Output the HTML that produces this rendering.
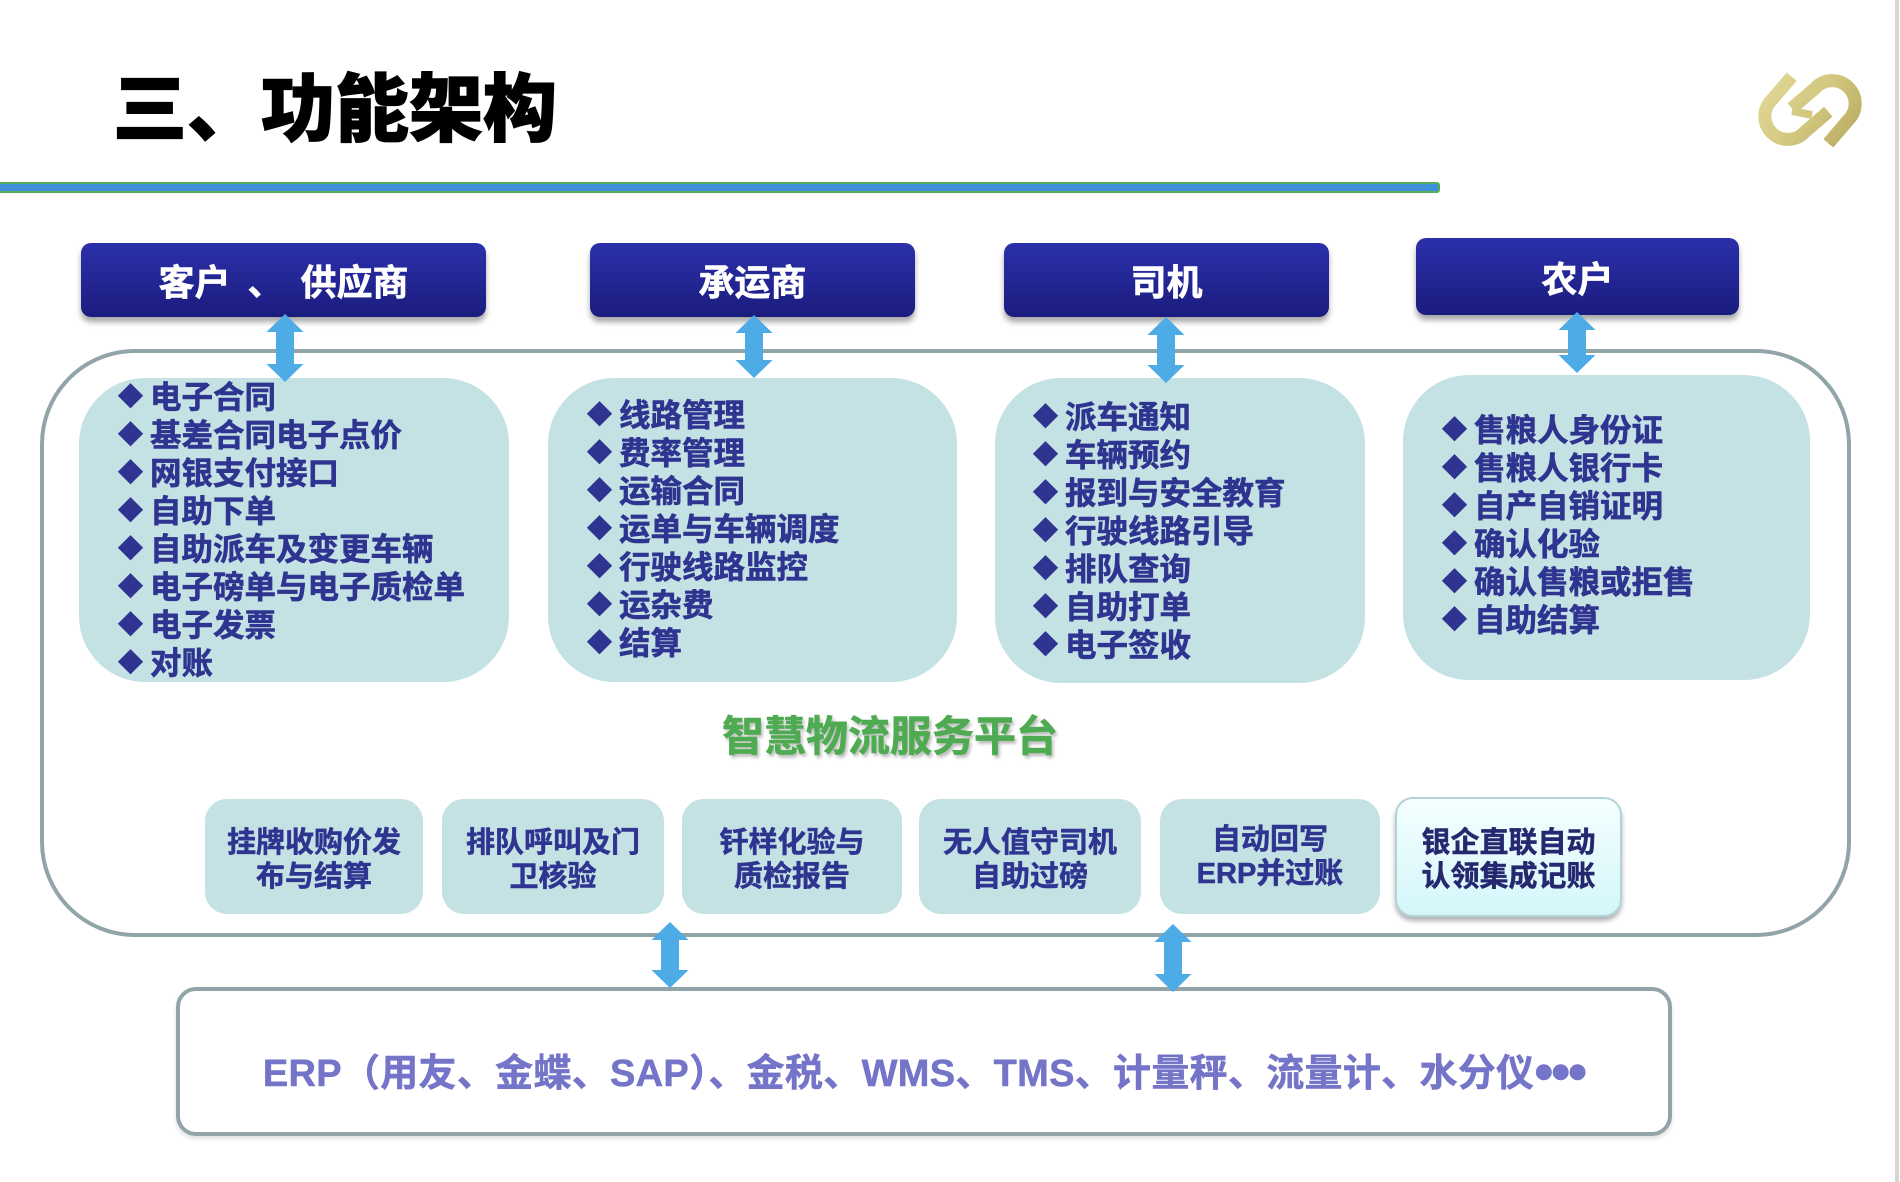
<!DOCTYPE html>
<html><head><meta charset="utf-8">
<style>
html,body{margin:0;padding:0;}
body{width:1900px;height:1182px;position:relative;background:#fff;overflow:hidden;font-family:"Liberation Sans","Noto Sans CJK SC",sans-serif;}
.abs{position:absolute;}
.cjk{font-family:"Noto Sans CJK SC","WenQuanYi Zen Hei",sans-serif;}
.title{left:113px;top:66px;font-size:74px;line-height:76px;font-weight:900;color:#000;white-space:nowrap;-webkit-text-stroke:1.2px #000;}
.rule{left:0;top:182px;width:1440px;height:11px;box-sizing:border-box;background:#3f8fdb;border:2px solid #55ad5b;border-left:none;border-radius:0 3px 3px 0;}
.outer{left:40px;top:349px;width:1811px;height:588px;box-sizing:border-box;border:4px solid #91a5a8;border-radius:95px;}
.hdr{box-sizing:border-box;height:74px;border-radius:10px;background:linear-gradient(#2b30aa,#1b1c7e);box-shadow:0 5px 6px rgba(0,0,0,0.35);color:#fff;font-weight:700;font-size:36px;display:flex;align-items:center;justify-content:center;white-space:nowrap;-webkit-text-stroke:0.6px #fff;}
.pan{background:#c4e1e4;border-radius:66px;}
.list{font-size:31.5px;line-height:38px;font-weight:700;color:#2f3490;white-space:nowrap;-webkit-text-stroke:0.6px #2f3490;}
.list b{display:inline-block;width:32px;font-size:25px;text-align:left;vertical-align:top;font-weight:700;}
.green{left:722px;top:713px;font-size:42px;line-height:42px;font-weight:700;color:#4fab52;text-shadow:2px 3px 3px rgba(0,0,0,0.28);white-space:nowrap;-webkit-text-stroke:0.6px #4fab52;}
.bx{box-sizing:border-box;top:799px;height:115px;background:#c4e1e4;border-radius:22px;display:flex;align-items:center;justify-content:center;text-align:center;font-size:29px;line-height:34px;font-weight:700;color:#2f3490;-webkit-text-stroke:0.5px #2f3490;}
.bx6{box-sizing:border-box;left:1395px;top:797px;width:227px;height:120px;border-radius:18px;border:2px solid #b3d2d6;background:linear-gradient(#f4ffff,#d4f6fa);box-shadow:0 4px 5px rgba(0,0,0,0.3);display:flex;align-items:center;justify-content:center;text-align:center;font-size:29px;line-height:34px;font-weight:700;color:#25286f;-webkit-text-stroke:0.5px #25286f;}
.erp{left:176px;top:987px;width:1496px;height:149px;box-sizing:border-box;border:4px solid #91a5a8;border-radius:20px;box-shadow:0 3px 4px rgba(0,0,0,0.12);}
.erptxt{left:176px;top:1055px;width:1496px;text-align:center;font-size:38px;line-height:38px;letter-spacing:0.3px;font-weight:700;color:#7474c8;white-space:nowrap;-webkit-text-stroke:0.5px #7474c8;}
.dots{font-family:"Liberation Sans",sans-serif;font-size:54px;line-height:20px;letter-spacing:-2px;vertical-align:-4px;}
</style></head><body>

<div class="abs title cjk">三、功能架构</div>
<div class="abs rule"></div>
<div class="abs" style="left:1895px;top:0;width:4px;height:1182px;background:#d6d6d6;"></div>

<!-- outer panel -->
<div class="abs outer"></div>

<!-- inner panels -->
<div class="abs pan" style="left:79px;top:378px;width:430px;height:304px;"></div>
<div class="abs pan" style="left:548px;top:378px;width:409px;height:304px;"></div>
<div class="abs pan" style="left:995px;top:378px;width:370px;height:305px;"></div>
<div class="abs pan" style="left:1403px;top:375px;width:407px;height:305px;"></div>

<div class="abs list cjk" style="left:118px;top:376px;"><b>◆</b>电子合同<br><b>◆</b>基差合同电子点价<br><b>◆</b>网银支付接口<br><b>◆</b>自助下单<br><b>◆</b>自助派车及变更车辆<br><b>◆</b>电子磅单与电子质检单<br><b>◆</b>电子发票<br><b>◆</b>对账</div>
<div class="abs list cjk" style="left:587px;top:394px;"><b>◆</b>线路管理<br><b>◆</b>费率管理<br><b>◆</b>运输合同<br><b>◆</b>运单与车辆调度<br><b>◆</b>行驶线路监控<br><b>◆</b>运杂费<br><b>◆</b>结算</div>
<div class="abs list cjk" style="left:1033px;top:396px;"><b>◆</b>派车通知<br><b>◆</b>车辆预约<br><b>◆</b>报到与安全教育<br><b>◆</b>行驶线路引导<br><b>◆</b>排队查询<br><b>◆</b>自助打单<br><b>◆</b>电子签收</div>
<div class="abs list cjk" style="left:1442px;top:409px;"><b>◆</b>售粮人身份证<br><b>◆</b>售粮人银行卡<br><b>◆</b>自产自销证明<br><b>◆</b>确认化验<br><b>◆</b>确认售粮或拒售<br><b>◆</b>自助结算</div>

<!-- header boxes -->
<div class="abs hdr cjk" style="left:81px;top:243px;width:405px;">客户<span style="margin:0 17px;">、</span>供应商</div>
<div class="abs hdr cjk" style="left:590px;top:243px;width:325px;">承运商</div>
<div class="abs hdr cjk" style="left:1004px;top:243px;width:325px;">司机</div>
<div class="abs hdr cjk" style="left:1416px;top:238px;width:323px;height:77px;">农户</div>

<div class="abs green cjk">智慧物流服务平台</div>

<!-- bottom boxes -->
<div class="abs bx cjk" style="left:205px;width:218px;">挂牌收购价发<br>布与结算</div>
<div class="abs bx cjk" style="left:442px;width:222px;">排队呼叫及门<br>卫核验</div>
<div class="abs bx cjk" style="left:682px;width:220px;">钎样化验与<br>质检报告</div>
<div class="abs bx cjk" style="left:919px;width:222px;">无人值守司机<br>自助过磅</div>
<div class="abs bx" style="left:1160px;width:220px;">自动回写<br>ERP并过账</div>
<div class="abs bx6 cjk">银企直联自动<br>认领集成记账</div>

<!-- ERP box -->
<div class="abs erp"></div>
<div class="abs erptxt">ERP（用友、金蝶、SAP）、金税、WMS、TMS、计量秤、流量计、水分仪<span class="dots">•••</span></div>

<!-- arrows + logo -->
<svg class="abs" style="left:0;top:0;" width="1900" height="1182" viewBox="0 0 1900 1182">
  <defs>
    <linearGradient id="gold" x1="0" y1="0" x2="140" y2="100" gradientUnits="userSpaceOnUse">
      <stop offset="0" stop-color="#e8e1a2"/>
      <stop offset="0.5" stop-color="#d3c880"/>
      <stop offset="1" stop-color="#ab9c4f"/>
    </linearGradient>
  </defs>
  <g fill="#4dabe6">
    <polygon points="285,314 303.5,332 294,332 294,364 303.5,364 285,382 266.5,364 276,364 276,332 266.5,332"/>
    <polygon points="754,315 772.5,333 763,333 763,360 772.5,360 754,378 735.5,360 745,360 745,333 735.5,333"/>
    <polygon points="1166,317 1184.5,335 1175,335 1175,365 1184.5,365 1166,383 1147.5,365 1157,365 1157,335 1147.5,335"/>
    <polygon points="1577,312 1595.5,330 1586,330 1586,355 1595.5,355 1577,373 1558.5,355 1568,355 1568,330 1558.5,330"/>
    <polygon points="670,922 688.5,940 679,940 679,970 688.5,970 670,988 651.5,970 661,970 661,940 651.5,940"/>
    <polygon points="1173,924 1191.5,942 1182,942 1182,974 1191.5,974 1173,992 1154.5,974 1164,974 1164,942 1154.5,942"/>
  </g>
  <g transform="translate(1740,60)" fill="none" stroke="url(#gold)" stroke-width="13">
    <path d="M51.7,16.7 L31.7,40 A23,23 0 1,0 65,71.7 L88.3,51.7"/>
    <path d="M88.3,83.3 L108.3,60 A23,23 0 1,0 75,28.3 L51.7,48.3"/>
    <path d="M52,51 L72,55" stroke-width="8"/>
  </g>
</svg>

</body></html>
